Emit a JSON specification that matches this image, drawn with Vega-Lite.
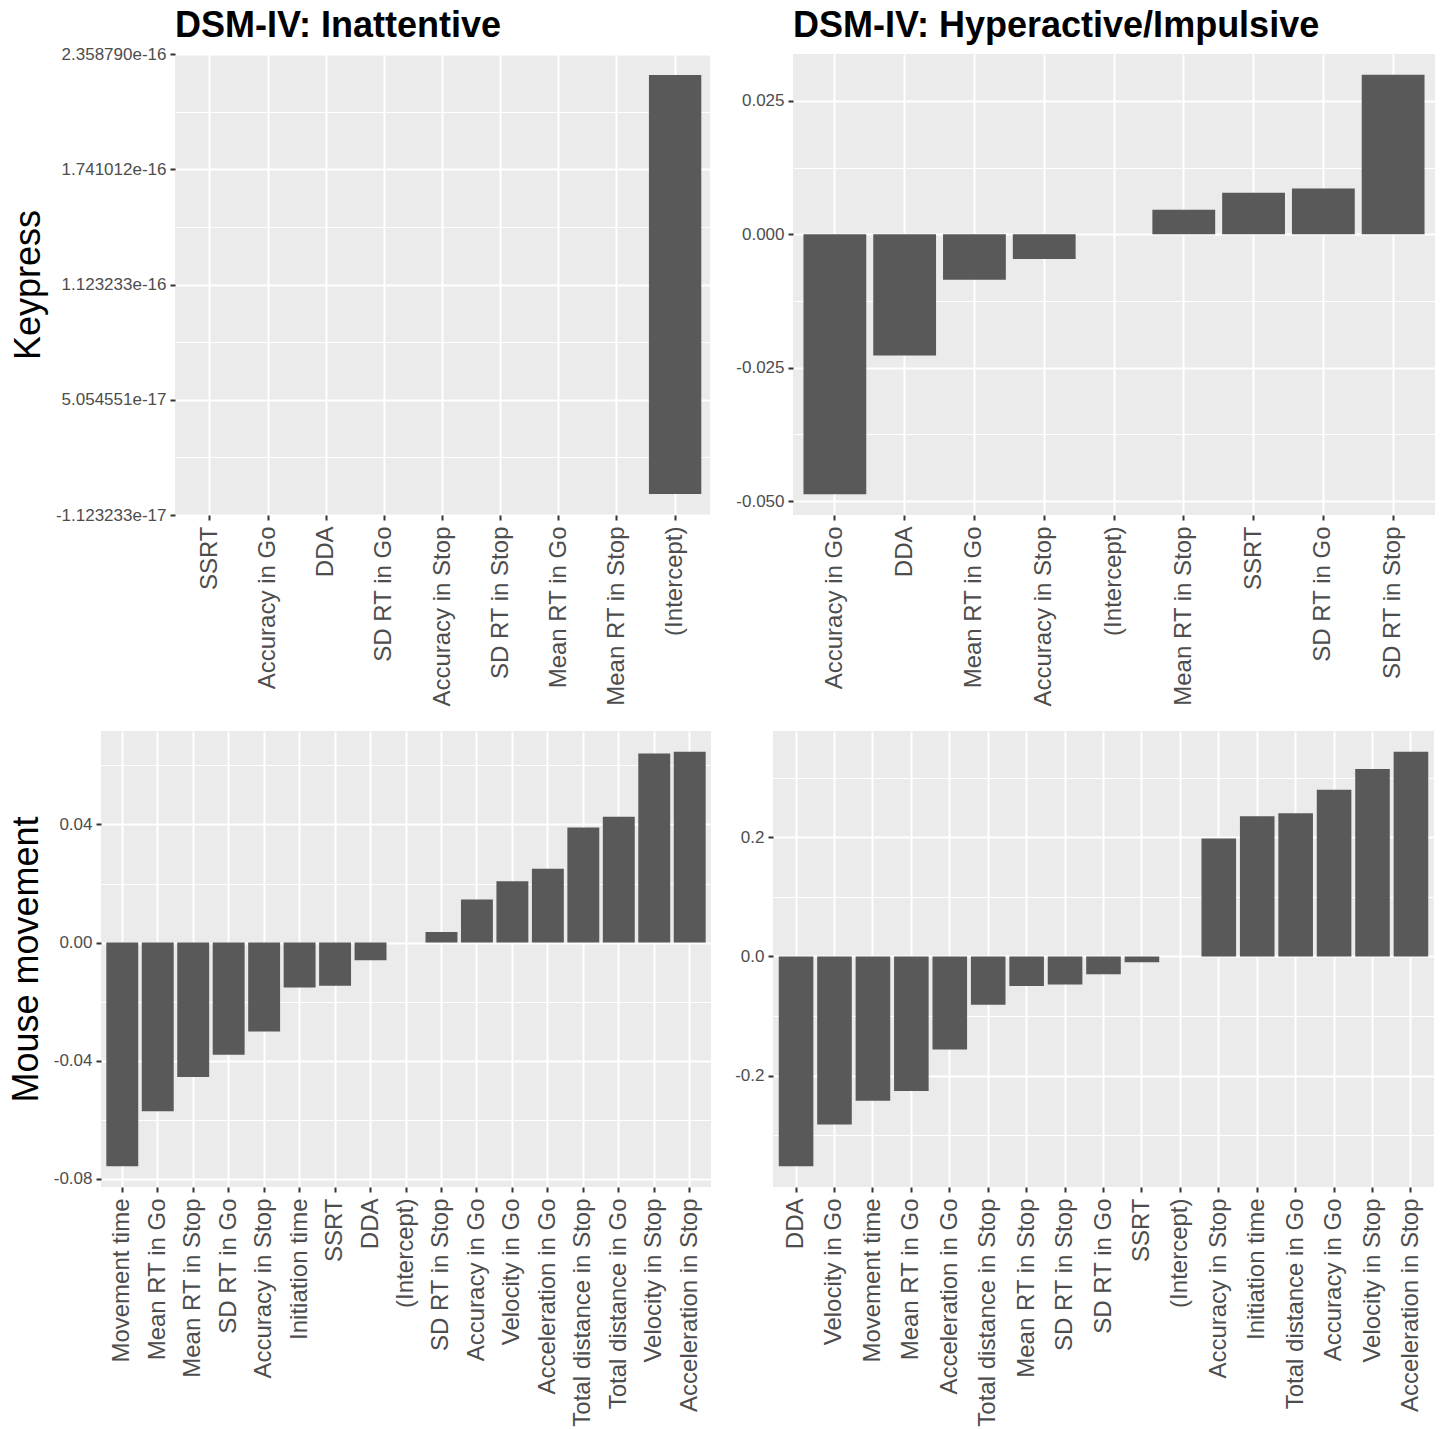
{
  "$schema": "https://vega.github.io/schema/vega-lite/v6.json",
  "padding": {"left": -16, "top": 8, "right": 4, "bottom": 2},
  "background": "#FFFFFF",
  "config": {
    "font": "Liberation Sans",
    "view": {"fill": "#EBEBEB", "stroke": null},
    "title": {"fontSize": 36, "fontWeight": "bold", "anchor": "start", "frame": "group", "color": "#000000", "font": "Liberation Sans", "offset": 9},
    "axis": {"domain": false, "labelColor": "#4D4D4D", "labelFont": "Liberation Sans", "tickColor": "#333333", "tickSize": 5, "tickWidth": 2, "gridColor": "#FFFFFF", "gridWidth": 2, "labelPadding": 4, "titleFont": "Liberation Sans", "titleColor": "#000000", "titleFontWeight": "normal", "titleFontSize": 36},
    "axisX": {"labelAngle": -90, "labelFontSize": 24, "labelLimit": 0, "labelOverlap": false, "labelFlush": false, "labelPadding": 6},
    "axisY": {"labelFontSize": 17, "labelOverlap": false, "labelFlush": false}
  },
  "datasets": {
    "spacer": [{"v": ""}],
    "kp_inatt": [
      {"term": "SSRT", "value": 0},
      {"term": "Accuracy in Go", "value": 0},
      {"term": "DDA", "value": 0},
      {"term": "SD RT in Go", "value": 0},
      {"term": "Accuracy in Stop", "value": 0},
      {"term": "SD RT in Stop", "value": 0},
      {"term": "Mean RT in Go", "value": 0},
      {"term": "Mean RT in Stop", "value": 0},
      {"term": "(Intercept)", "value": 2.246466e-16}
    ],
    "kp_hyper": [
      {"term": "Accuracy in Go", "value": -0.0487},
      {"term": "DDA", "value": -0.0227},
      {"term": "Mean RT in Go", "value": -0.0085},
      {"term": "Accuracy in Stop", "value": -0.0046},
      {"term": "(Intercept)", "value": 0},
      {"term": "Mean RT in Stop", "value": 0.0046},
      {"term": "SSRT", "value": 0.0078},
      {"term": "SD RT in Go", "value": 0.0086},
      {"term": "SD RT in Stop", "value": 0.0299}
    ],
    "mm_inatt": [
      {"term": "Movement time", "value": -0.0757},
      {"term": "Mean RT in Go", "value": -0.0571},
      {"term": "Mean RT in Stop", "value": -0.0455},
      {"term": "SD RT in Go", "value": -0.0380},
      {"term": "Accuracy in Stop", "value": -0.0301},
      {"term": "Initiation time", "value": -0.0152},
      {"term": "SSRT", "value": -0.0146},
      {"term": "DDA", "value": -0.0060},
      {"term": "(Intercept)", "value": 0},
      {"term": "SD RT in Stop", "value": 0.0036},
      {"term": "Accuracy in Go", "value": 0.0146},
      {"term": "Velocity in Go", "value": 0.0208},
      {"term": "Acceleration in Go", "value": 0.0250},
      {"term": "Total distance in Stop", "value": 0.0390},
      {"term": "Total distance in Go", "value": 0.0426},
      {"term": "Velocity in Stop", "value": 0.0640},
      {"term": "Acceleration in Stop", "value": 0.0646}
    ],
    "mm_hyper": [
      {"term": "DDA", "value": -0.352},
      {"term": "Velocity in Go", "value": -0.282},
      {"term": "Movement time", "value": -0.242},
      {"term": "Mean RT in Go", "value": -0.2257},
      {"term": "Acceleration in Go", "value": -0.156},
      {"term": "Total distance in Stop", "value": -0.081},
      {"term": "Mean RT in Stop", "value": -0.0497},
      {"term": "SD RT in Stop", "value": -0.0469},
      {"term": "SD RT in Go", "value": -0.0296},
      {"term": "SSRT", "value": -0.0095},
      {"term": "(Intercept)", "value": 0},
      {"term": "Accuracy in Stop", "value": 0.1978},
      {"term": "Initiation time", "value": 0.2352},
      {"term": "Total distance in Go", "value": 0.2402},
      {"term": "Accuracy in Go", "value": 0.2799},
      {"term": "Velocity in Stop", "value": 0.3145},
      {"term": "Acceleration in Stop", "value": 0.3436}
    ]
  },
  "spacing": 18,
  "vconcat": [
    {
      "spacing": 25,
      "hconcat": [
        {
          "width": 1, "height": 1,
          "data": {"name": "spacer"},
          "view": {"fill": null, "stroke": null},
          "mark": {"type": "text"},
          "encoding": {"text": {"field": "v"}}
        },
        {
          "width": 535, "height": 461,
          "data": {"name": "kp_inatt"},
          "title": {"text": "DSM-IV: Inattentive", "offset": 0},
          "encoding": {
            "x": {"field": "term", "type": "nominal", "sort": null, "scale": {"paddingInner": 0.1, "paddingOuter": 0.15},
                  "axis": {"title": null, "grid": true, "bandPosition": 0.5}}
          },
          "layer": [
            {"mark": {"type": "bar", "opacity": 0},
             "encoding": {"y": {"field": "value", "type": "quantitative", "scale": {"domain": [-1.123233e-17, 2.358790e-16], "nice": false, "zero": false},
               "axis": {"orient": "left", "title": null, "labels": false, "ticks": false, "grid": true, "gridWidth": 1, "values": [1.965659e-17, 8.143441e-17, 1.432123e-16, 2.049901e-16]}},
               "y2": {"datum": 0}}},
            {"mark": {"type": "bar", "color": "#595959"},
             "encoding": {"y": {"field": "value", "type": "quantitative", "scale": {"domain": [-1.123233e-17, 2.358790e-16], "nice": false, "zero": false},
               "axis": {"orient": "left", "title": "Keypress", "titlePadding": 8, "grid": true, "values": [-1.123233e-17, 5.054551e-17, 1.123233e-16, 1.741012e-16, 2.358790e-16],
                        "labelExpr": "replace(format(datum.value, '.6e'), '\u2212', '-')"}},
               "y2": {"datum": 0}}}
          ],
          "resolve": {"axis": {"y": "independent"}}
        },
        {
          "width": 642, "height": 461,
          "data": {"name": "kp_hyper"},
          "title": {"text": "DSM-IV: Hyperactive/Impulsive"},
          "encoding": {
            "x": {"field": "term", "type": "nominal", "sort": null, "scale": {"paddingInner": 0.1, "paddingOuter": 0.15},
                  "axis": {"title": null, "grid": true, "bandPosition": 0.5}}
          },
          "layer": [
            {"mark": {"type": "bar", "opacity": 0},
             "encoding": {"y": {"field": "value", "type": "quantitative", "scale": {"domain": [-0.0526, 0.0338], "nice": false, "zero": false},
               "axis": {"orient": "left", "title": null, "labels": false, "ticks": false, "grid": true, "gridWidth": 1, "values": [-0.0375, -0.0125, 0.0125]}},
               "y2": {"datum": 0}}},
            {"mark": {"type": "bar", "color": "#595959"},
             "encoding": {"y": {"field": "value", "type": "quantitative", "scale": {"domain": [-0.0526, 0.0338], "nice": false, "zero": false},
               "axis": {"orient": "left", "title": null, "grid": true, "values": [-0.05, -0.025, 0, 0.025],
                        "labelExpr": "replace(format(datum.value, '.3f'), '\u2212', '-')"}},
               "y2": {"datum": 0}}}
          ],
          "resolve": {"axis": {"y": "independent"}}
        }
      ]
    },
    {
      "spacing": 23,
      "hconcat": [
        {
          "width": 1, "height": 1,
          "data": {"name": "spacer"},
          "view": {"fill": null, "stroke": null},
          "mark": {"type": "text"},
          "encoding": {"text": {"field": "v"}}
        },
        {
          "width": 610, "height": 456,
          "data": {"name": "mm_inatt"},
          "encoding": {
            "x": {"field": "term", "type": "nominal", "sort": null, "scale": {"paddingInner": 0.1, "paddingOuter": 0.15},
                  "axis": {"title": null, "grid": true, "bandPosition": 0.5}}
          },
          "layer": [
            {"mark": {"type": "bar", "opacity": 0},
             "encoding": {"y": {"field": "value", "type": "quantitative", "scale": {"domain": [-0.08272, 0.07162], "nice": false, "zero": false},
               "axis": {"orient": "left", "title": null, "labels": false, "ticks": false, "grid": true, "gridWidth": 1, "values": [-0.06, -0.02, 0.02, 0.06]}},
               "y2": {"datum": 0}}},
            {"mark": {"type": "bar", "color": "#595959"},
             "encoding": {"y": {"field": "value", "type": "quantitative", "scale": {"domain": [-0.08272, 0.07162], "nice": false, "zero": false},
               "axis": {"orient": "left", "title": "Mouse movement", "titlePadding": 8, "grid": true, "values": [-0.08, -0.04, 0, 0.04],
                        "labelExpr": "replace(format(datum.value, '.2f'), '\u2212', '-')"}},
               "y2": {"datum": 0}}}
          ],
          "resolve": {"axis": {"y": "independent"}}
        },
        {
          "width": 661, "height": 456,
          "data": {"name": "mm_hyper"},
          "encoding": {
            "x": {"field": "term", "type": "nominal", "sort": null, "scale": {"paddingInner": 0.1, "paddingOuter": 0.15},
                  "axis": {"title": null, "grid": true, "bandPosition": 0.5}}
          },
          "layer": [
            {"mark": {"type": "bar", "opacity": 0},
             "encoding": {"y": {"field": "value", "type": "quantitative", "scale": {"domain": [-0.38678, 0.37838], "nice": false, "zero": false},
               "axis": {"orient": "left", "title": null, "labels": false, "ticks": false, "grid": true, "gridWidth": 1, "values": [-0.3, -0.1, 0.1, 0.3]}},
               "y2": {"datum": 0}}},
            {"mark": {"type": "bar", "color": "#595959"},
             "encoding": {"y": {"field": "value", "type": "quantitative", "scale": {"domain": [-0.38678, 0.37838], "nice": false, "zero": false},
               "axis": {"orient": "left", "title": null, "grid": true, "values": [-0.2, 0, 0.2],
                        "labelExpr": "replace(format(datum.value, '.1f'), '\u2212', '-')"}},
               "y2": {"datum": 0}}}
          ],
          "resolve": {"axis": {"y": "independent"}}
        }
      ]
    }
  ]
}
